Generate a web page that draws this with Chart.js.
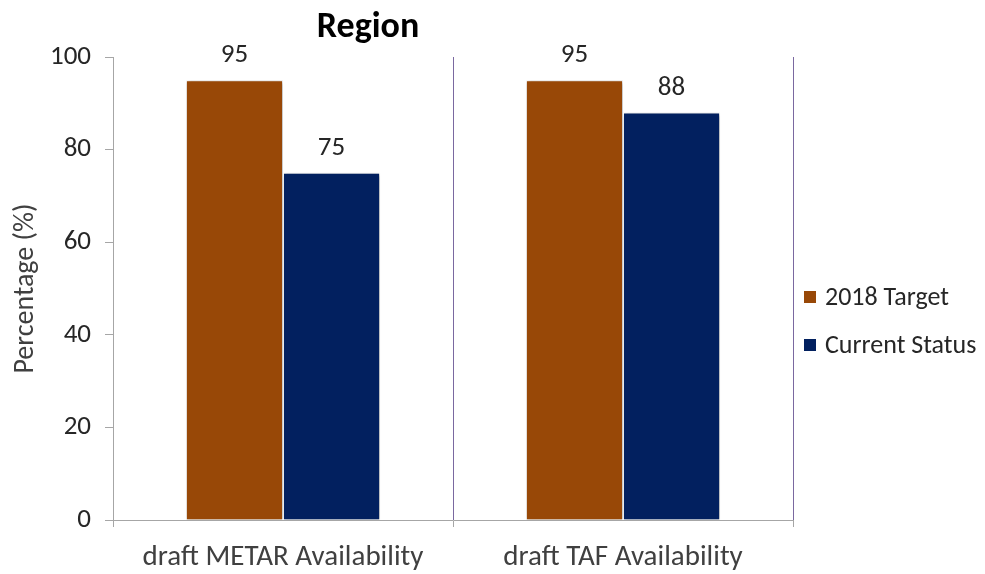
<!DOCTYPE html>
<html>
<head>
<meta charset="utf-8">
<script src="https://cdn.jsdelivr.net/npm/chart.js@4"></script>
<style>
  html, body { margin: 0; padding: 0; background: #ffffff; }
  #wrap { width: 985px; height: 574px; position: relative; }
</style>
</head>
<body>
<div id="wrap"><canvas id="chart" width="985" height="574"></canvas></div>
<script>
const categories = ['draft METAR Availability', 'draft TAF Availability'];
const seriesNames = ['2018 Target', 'Current Status'];
const targetValues = [95, 95];
const statusValues = [75, 88];
const yTicks = [0, 20, 40, 60, 80, 100];

const FONT = 'Carlito, Lato, "Open Sans", sans-serif';
const colors = ['#984807', '#02205F'];

// value labels above each bar
const valueLabels = {
  id: 'valueLabels',
  afterDatasetsDraw(chart) {
    const ctx = chart.ctx;
    ctx.save();
    ctx.font = '27px ' + FONT;
    ctx.fillStyle = '#262626';
    ctx.textAlign = 'center';
    ctx.textBaseline = 'alphabetic';
    chart.data.datasets.forEach((ds, i) => {
      chart.getDatasetMeta(i).data.forEach((bar, j) => {
        ctx.fillText(String(ds.data[j]), bar.x, bar.y - 18);
      });
    });
    ctx.restore();
  }
};

// soft shadow behind the bars
const barShadow = {
  id: 'barShadow',
  beforeDatasetsDraw(chart) {
    const ctx = chart.ctx;
    ctx.save();
    ctx.shadowColor = 'rgba(0,0,0,0.35)';
    ctx.shadowBlur = 4;
    ctx.shadowOffsetX = 1;
    ctx.shadowOffsetY = 1;
  },
  afterDatasetsDraw(chart) {
    chart.ctx.restore();
  }
};

// title and legend drawn at fixed spots
const sideText = {
  id: 'sideText',
  afterDraw(chart) {
    const ctx = chart.ctx;
    ctx.save();
    ctx.font = 'bold 36px ' + FONT;
    ctx.fillStyle = '#000000';
    ctx.textAlign = 'center';
    ctx.textBaseline = 'middle';
    ctx.fillText('Region', 368, 28);

    ctx.font = '26px ' + FONT;
    ctx.textAlign = 'left';
    chart.data.datasets.forEach((ds, i) => {
      const y = 297 + i * 48;
      ctx.fillStyle = ds.backgroundColor;
      ctx.fillRect(804, y - 6, 12, 12);
      ctx.fillStyle = '#262626';
      ctx.fillText(ds.label, 825, y + 1);
    });
    ctx.restore();
  }
};

new Chart(document.getElementById('chart'), {
  type: 'bar',
  data: {
    labels: categories,
    datasets: [
      { label: seriesNames[0], data: targetValues, backgroundColor: colors[0] },
      { label: seriesNames[1], data: statusValues, backgroundColor: colors[1] }
    ]
  },
  options: {
    responsive: false,
    animation: false,
    devicePixelRatio: 1,
    layout: { padding: { top: 57, right: 192, left: 0, bottom: 0 } },
    datasets: {
      bar: {
        categoryPercentage: 0.571,
        barPercentage: 1.0,
        borderColor: '#ffffff',
        borderWidth: 1
      }
    },
    plugins: {
      legend: { display: false },
      title: { display: false },
      tooltip: { enabled: false }
    },
    scales: {
      x: {
        afterFit(scale) { scale.height = 54; },
        grid: {
          offset: true,
          drawOnChartArea: true,
          color: (c) => c.index === 0 ? '#a6a6a6' : '#7a68a0',
          tickColor: '#a6a6a6',
          tickLength: 7,
          lineWidth: 1
        },
        border: { color: '#a6a6a6', width: 1 },
        ticks: {
          font: { family: FONT, size: 29 },
          color: '#404040',
          padding: 13
        }
      },
      y: {
        min: 0,
        max: 100,
        afterFit(scale) { scale.width = 113; },
        afterBuildTicks(scale) { scale.ticks = yTicks.map(v => ({ value: v })); },
        grid: {
          drawOnChartArea: false,
          color: '#a6a6a6',
          tickLength: 8
        },
        border: { color: '#a6a6a6', width: 1 },
        ticks: {
          font: { family: FONT, size: 27 },
          color: '#262626',
          padding: 14
        },
        title: {
          display: true,
          text: 'Percentage (%)',
          font: { family: FONT, size: 28 },
          color: '#404040',
          padding: { top: 9, bottom: 0 }
        }
      }
    }
  },
  plugins: [barShadow, valueLabels, sideText]
});
</script>
</body>
</html>
